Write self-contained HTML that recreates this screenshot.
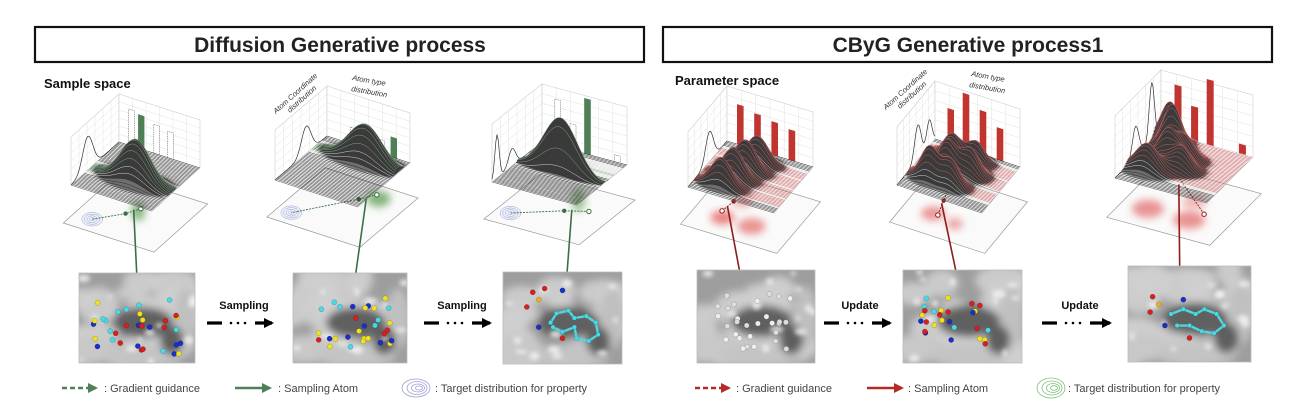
<!DOCTYPE html>
<html><head><meta charset="utf-8">
<style>
html,body{margin:0;padding:0;background:#fff;}
svg{display:block;font-family:"Liberation Sans",sans-serif;}
</style></head>
<body>
<svg id="s" width="1306" height="420" viewBox="0 0 1306 420" xmlns="http://www.w3.org/2000/svg">
<defs>
<filter id="b2" x="-50%" y="-50%" width="200%" height="200%"><feGaussianBlur stdDeviation="2"/></filter>
<filter id="b4" x="-50%" y="-50%" width="200%" height="200%"><feGaussianBlur stdDeviation="4"/></filter>
<filter id="b6" x="-50%" y="-50%" width="200%" height="200%"><feGaussianBlur stdDeviation="6"/></filter>
<marker id="ag" viewBox="0 0 10 10" refX="8" refY="5" markerWidth="4" markerHeight="4" orient="auto"><path d="M0,0L10,5L0,10z" fill="#4f7f57"/></marker>
<marker id="ar" viewBox="0 0 10 10" refX="8" refY="5" markerWidth="4" markerHeight="4" orient="auto"><path d="M0,0L10,5L0,10z" fill="#b52a25"/></marker>
<marker id="ak" viewBox="0 0 10 10" refX="8" refY="5" markerWidth="3.2" markerHeight="3.2" orient="auto"><path d="M0,0L10,5L0,10z" fill="#000"/></marker>
</defs>
<rect x="35" y="27" width="609" height="35" fill="#fff" stroke="#111" stroke-width="2.2"/>
<text x="340" y="52" font-size="21" font-weight="bold" text-anchor="middle" fill="#222">Diffusion Generative process</text>
<rect x="663" y="27" width="609" height="35" fill="#fff" stroke="#111" stroke-width="2.2"/>
<text x="968" y="52" font-size="21" text-anchor="middle" fill="#222" font-weight="bold">CByG Generative process1</text>
<g id="g"></g>
<text x="44" y="88" font-size="13" font-weight="bold" fill="#111">Sample space</text>
<text x="675" y="85" font-size="13" font-weight="bold" fill="#111">Parameter space</text>
<g font-size="7.5" fill="#333" font-style="italic">
<text transform="translate(276,114) rotate(-42)">Atom Coordinate</text>
<text transform="translate(290,113) rotate(-42)">distribution</text>
<text x="352" y="80" transform="rotate(10 352 80)">Atom type</text>
<text x="351" y="91" transform="rotate(10 351 91)">distribution</text>
<text transform="translate(886,110) rotate(-42)">Atom Coordinate</text>
<text transform="translate(900,109) rotate(-42)">distribution</text>
<text x="971" y="76" transform="rotate(10 971 76)">Atom type</text>
<text x="969" y="87" transform="rotate(10 969 87)">distribution</text>
</g>
<g font-size="11" font-weight="bold" fill="#111" text-anchor="middle">
<text x="244" y="309">Sampling</text>
<text x="462" y="309">Sampling</text>
<text x="860" y="309">Update</text>
<text x="1080" y="309">Update</text>
</g>
<g stroke="#000" stroke-width="3.2" fill="none">
<line x1="207" y1="323" x2="222" y2="323"/><line x1="255" y1="323" x2="272" y2="323" marker-end="url(#ak)"/>
<line x1="424" y1="323" x2="439" y2="323"/><line x1="472" y1="323" x2="490" y2="323" marker-end="url(#ak)"/>
<line x1="824" y1="323" x2="839" y2="323"/><line x1="872" y1="323" x2="890" y2="323" marker-end="url(#ak)"/>
<line x1="1042" y1="323" x2="1057" y2="323"/><line x1="1090" y1="323" x2="1110" y2="323" marker-end="url(#ak)"/>
</g>
<g fill="#000"><circle cx="231" cy="323" r="1.3"/><circle cx="238" cy="323" r="1.3"/><circle cx="245" cy="323" r="1.3"/>
<circle cx="448" cy="323" r="1.3"/><circle cx="455" cy="323" r="1.3"/><circle cx="462" cy="323" r="1.3"/>
<circle cx="848" cy="323" r="1.3"/><circle cx="855" cy="323" r="1.3"/><circle cx="862" cy="323" r="1.3"/>
<circle cx="1066" cy="323" r="1.3"/><circle cx="1073" cy="323" r="1.3"/><circle cx="1080" cy="323" r="1.3"/></g>
<g font-size="11" fill="#444">
<line x1="62" y1="388" x2="96" y2="388" stroke="#4f7f57" stroke-width="2.5" stroke-dasharray="5,3" marker-end="url(#ag)"/>
<text x="104" y="392">: Gradient guidance</text>
<line x1="235" y1="388" x2="270" y2="388" stroke="#4f7f57" stroke-width="2.5" marker-end="url(#ag)"/>
<text x="278" y="392">: Sampling Atom</text>
<g fill="none" stroke="#99a0d0" stroke-width="0.8"><ellipse cx="416" cy="388" rx="14" ry="9"/><ellipse cx="417" cy="388" rx="10" ry="6.5"/><ellipse cx="418" cy="388" rx="6.5" ry="4"/><ellipse cx="419" cy="388" rx="3.5" ry="2"/></g>
<text x="435" y="392">: Target distribution for property</text>
<line x1="695" y1="388" x2="729" y2="388" stroke="#b52a25" stroke-width="2.5" stroke-dasharray="5,3" marker-end="url(#ar)"/>
<text x="736" y="392">: Gradient guidance</text>
<line x1="867" y1="388" x2="902" y2="388" stroke="#b52a25" stroke-width="2.5" marker-end="url(#ar)"/>
<text x="908" y="392">: Sampling Atom</text>
<g fill="none" stroke="#7cc07c" stroke-width="0.8"><ellipse cx="1051" cy="388" rx="14" ry="10"/><ellipse cx="1052" cy="388" rx="10" ry="7"/><ellipse cx="1053" cy="388" rx="6.5" ry="4.5"/><ellipse cx="1054" cy="388" rx="3.5" ry="2.3"/></g>
<text x="1068" y="392">: Target distribution for property</text>
</g>
</svg>
<script>
(function(){
var NS="http://www.w3.org/2000/svg",G=document.getElementById("g");
function el(t,a,p){var e=document.createElementNS(NS,t);for(var k in a)e.setAttribute(k,a[k]);(p||G).appendChild(e);return e;}
var seed=7;function rnd(){seed=(seed*16807)%2147483647;return (seed-1)/2147483646;}
function gs(u,v,pu,pv,su,sv,h){return h*Math.exp(-((u-pu)*(u-pu)/(2*su*su)+(v-pv)*(v-pv)/(2*sv*sv)));}
function plot(o){
 var L=o.L,F=o.F,R=o.R,W=o.W;
 var Bk=[L[0]+R[0]-F[0],L[1]+R[1]-F[1]];
 function P(u,v,h){return [L[0]+u*(F[0]-L[0])+v*(R[0]-F[0]), L[1]+u*(F[1]-L[1])+v*(R[1]-F[1])-(h||0)];}
 function pt(a){return a[0].toFixed(1)+","+a[1].toFixed(1);}
 var g=el("g",{});
 var i;
 el("polygon",{points:[L,Bk,[Bk[0],Bk[1]-W],[L[0],L[1]-W]].map(pt).join(" "),fill:"#fff",stroke:"#ccc","stroke-width":0.6},g);
 el("polygon",{points:[Bk,R,[R[0],R[1]-W],[Bk[0],Bk[1]-W]].map(pt).join(" "),fill:"#fff",stroke:"#ccc","stroke-width":0.6},g);
 for(i=1;i<6;i++){var f=i/6;
  el("line",{x1:L[0],y1:L[1]-W*f,x2:Bk[0],y2:Bk[1]-W*f,stroke:"#e2e2e2","stroke-width":0.5},g);
  el("line",{x1:Bk[0],y1:Bk[1]-W*f,x2:R[0],y2:R[1]-W*f,stroke:"#e2e2e2","stroke-width":0.5},g);
  var a=P(0,f),b;
  el("line",{x1:a[0],y1:a[1],x2:a[0],y2:a[1]-W,stroke:"#e2e2e2","stroke-width":0.5},g);
  b=[Bk[0]+(R[0]-Bk[0])*f,Bk[1]+(R[1]-Bk[1])*f];
  el("line",{x1:b[0],y1:b[1],x2:b[0],y2:b[1]-W,stroke:"#e2e2e2","stroke-width":0.5},g);
 }
 var cp=[];for(i=0;i<=40;i++){var t=i/40;cp.push([L[0]+(Bk[0]-L[0])*t, L[1]+(Bk[1]-L[1])*t-o.curve(t)*W]);}
 el("polyline",{points:cp.map(pt).join(" "),fill:"none",stroke:"#333","stroke-width":0.7},g);
 o.bars.forEach(function(b){var u0=b[0],w=0.07,h=b[1]*W;
  var p0=[Bk[0]+(R[0]-Bk[0])*u0,Bk[1]+(R[1]-Bk[1])*u0],p1=[Bk[0]+(R[0]-Bk[0])*(u0+w),Bk[1]+(R[1]-Bk[1])*(u0+w)];
  el("polygon",{points:[p0,p1,[p1[0],p1[1]-h],[p0[0],p0[1]-h]].map(pt).join(" "),fill:b[2]?o.col:"#fff",stroke:b[2]?o.col:"#444","stroke-width":b[2]?0.6:0.5,"stroke-dasharray":b[2]?"":"1,0.8"},g);});
 var c=P(0.5,0.5),s=1.12,dy=o.pd;
 function Q(u,v){var p=P(u,v);return [c[0]+(p[0]-c[0])*s,c[1]+(p[1]-c[1])*s+dy];}
 el("polygon",{points:[Q(0,0),Q(1,0),Q(1,1),Q(0,1)].map(pt).join(" "),fill:"#fafafa",stroke:"#999","stroke-width":0.7},g);
 o.blobs.forEach(function(b){var q=Q(b[0],b[1]);el("ellipse",{cx:q[0],cy:q[1],rx:b[2],ry:b[3],fill:o.bcol,opacity:b[4],filter:"url(#b4)"},g);});
 var tq=Q(o.tgt[0],o.tgt[1]);
 for(i=4;i>0;i--)el("ellipse",{cx:tq[0],cy:tq[1],rx:i*2.6,ry:i*1.7,fill:i==4?o.tfill:"none",stroke:o.tcol,"stroke-width":0.5},g);
 var pa=Q(o.pts[0][0],o.pts[0][1]),pb=Q(o.pts[1][0],o.pts[1][1]),pc=Q(o.pts[2][0],o.pts[2][1]);
 el("polyline",{points:[pa,pb,tq].map(pt).join(" "),fill:"none",stroke:o.dcol,"stroke-width":0.9,"stroke-dasharray":"2,1.2"},g);
 el("circle",{cx:pb[0],cy:pb[1],r:2.2,fill:o.dcol},g);
 el("circle",{cx:pa[0],cy:pa[1],r:2.2,fill:"#fff",stroke:o.dcol,"stroke-width":1},g);
 var NU=46,NV=44;
 for(var j=NV;j>=0;j--){var v=j/NV,top=[],maxh=0;
  for(i=0;i<=NU;i++){var u=i/NU,h=o.h(u,v);if(h>maxh)maxh=h;top.push(P(u,v,h));}
  var poly=top.concat([P(1,v,0),P(0,v,0)]);
  var k=Math.min(1,maxh/(o.hmax||30));
  el("polygon",{points:poly.map(pt).join(" "),fill:k>0.2?"#3a3a3a":"#6e6e6e",stroke:"none"},g);
  el("polyline",{points:top.map(pt).join(" "),fill:"none",stroke:k>0.5?o.lcol:(k>0.2?"#d8d8d8":"#2a2a2a"),"stroke-width":0.5},g);
 }
 el("polyline",{points:[P(0,0),P(1,0),P(1,1)].map(pt).join(" "),fill:"none",stroke:"#888","stroke-width":0.4},g);
 el("line",{x1:pc[0],y1:pc[1],x2:o.to[0],y2:o.to[1],stroke:o.dcol,"stroke-width":1.6},g);
}
function protein(x,y,w,h,atoms,mol,sd){
 seed=sd;var g=el("g",{});
 var cp=el("clipPath",{id:"cp"+sd},g);el("rect",{x:x,y:y,width:w,height:h},cp);
 var gg=el("g",{"clip-path":"url(#cp"+sd+")"},g);
 el("rect",{x:x,y:y,width:w,height:h,fill:"#9e9e9e"},gg);
 var bl=el("g",{filter:"url(#b4)"},gg);
 for(var i=0;i<18;i++){el("ellipse",{cx:x+rnd()*w,cy:y+rnd()*h,rx:12+rnd()*18,ry:7+rnd()*12,fill:"#cfcfcf",opacity:0.9},bl);}
 el("ellipse",{cx:x+w*0.1,cy:y+h*0.85,rx:30,ry:14,fill:"#c8c8c8"},bl);
 el("ellipse",{cx:x+w*0.55,cy:y+h*0.92,rx:40,ry:12,fill:"#c4c4c4"},bl);
 el("ellipse",{cx:x+w*0.92,cy:y+h*0.5,rx:12,ry:30,fill:"#c0c0c0"},bl);
 el("ellipse",{cx:x+w*0.55,cy:y+h*0.55,rx:w*0.26,ry:h*0.17,fill:"#606060"},bl);
 el("ellipse",{cx:x+w*0.8,cy:y+h*0.75,rx:w*0.1,ry:h*0.16,fill:"#5e5e5e"},bl);
 var b2=el("g",{filter:"url(#b2)"},gg);
 for(i=0;i<12;i++){el("ellipse",{cx:x+rnd()*w,cy:y+rnd()*h,rx:2+rnd()*5,ry:1.5+rnd()*3,fill:"#f4f4f4",opacity:0.8},b2);}
 if(mol){var pts=mol.map(function(p){return [x+p[0]*w,y+p[1]*h];});
  el("polyline",{points:pts.map(function(p){return p.join(",");}).join(" "),fill:"none",stroke:"#4fd6e0","stroke-width":2.4},gg);}
 atoms.forEach(function(a){el("circle",{cx:x+a[0]*w,cy:y+a[1]*h,r:a[3]||2.6,fill:a[2],stroke:"rgba(0,0,0,0.35)","stroke-width":0.4},gg);});
 el("rect",{x:x,y:y,width:w,height:h,fill:"none",stroke:"#bbb","stroke-width":0.8},g);
}
var cols=["#d42020","#1a2fc8","#47d9e6","#f0e020"];
function randAtoms(n,sd,cx,cy,sx,sy,palette){seed=sd;var a=[];for(var i=0;i<n;i++){a.push([cx+(rnd()-0.5)*sx,cy+(rnd()-0.5)*sy,palette[Math.floor(rnd()*palette.length)]]);}return a;}
var GR="#4f7f57",RD="#c0352f";
plot({L:[71,185],F:[152,211],R:[200,168],W:48,pd:37,col:GR,lcol:"#7fa882",bcol:"#5a9a50",dcol:"#3e6e48",tcol:"#9aa2d4",tfill:"#eef0f8",hmax:40,
 h:function(u,v){return gs(u,v,0.55,0.42,0.18,0.08,42);},curve:function(t){return 0.7*Math.exp(-Math.pow((t-0.35)/0.15,2));},
 bars:[[0.12,0.75,0],[0.24,0.7,1],[0.43,0.6,0],[0.6,0.55,0]],
 blobs:[[0.5,0.55,7,10,0.7]],tgt:[0.2,0.2],pts:[[0.5,0.6],[0.42,0.45],[0.45,0.55]],to:[138,300]});
plot({L:[275,180],F:[358,207],R:[410,163],W:50,pd:36,col:GR,lcol:"#7fa882",bcol:"#5a9a50",dcol:"#3e6e48",tcol:"#9aa2d4",tfill:"#eef0f8",hmax:40,
 h:function(u,v){return gs(u,v,0.6,0.78,0.2,0.07,38);},curve:function(t){return 0.55*Math.exp(-Math.pow((t-0.6)/0.13,2));},
 bars:[[0.28,0.33,0],[0.4,0.2,0],[0.62,0.28,0],[0.77,0.4,1]],
 blobs:[[0.7,0.8,12,8,0.75]],tgt:[0.15,0.18],pts:[[0.65,0.85],[0.55,0.7],[0.6,0.75]],to:[352,300]});
plot({L:[492,182],F:[577,205],R:[627,165],W:58,pd:36,col:GR,lcol:"#7fa882",bcol:"#5a9a50",dcol:"#3e6e48",tcol:"#9aa2d4",tfill:"#eef0f8",hmax:40,
 h:function(u,v){return gs(u,v,0.5,0.52,0.2,0.035,55)+gs(u,v,0.35,0.72,0.12,0.06,20)+gs(u,v,0.25,0.85,0.1,0.06,15);},curve:function(t){return 0.75*Math.exp(-Math.pow((t-0.1)/0.06,2))+0.3*Math.exp(-Math.pow((t-0.4)/0.1,2));},
 bars:[[0.15,0.8,0],[0.33,0.45,0],[0.5,0.95,1],[0.85,0.12,0]],
 blobs:[[0.55,0.75,7,12,0.6]],tgt:[0.15,0.22],pts:[[0.75,0.6],[0.55,0.5],[0.6,0.55]],to:[565,300]});
function multi(list){return function(u,v){var s=0;list.forEach(function(p){s+=gs(u,v,p[0],p[1],p[2],p[3],p[4]);});return s;};}
plot({L:[688,187],F:[774,213],R:[813,167],W:55,pd:36,col:RD,lcol:"#c86060",bcol:"#e05050",dcol:"#8a1e1a",tcol:"#7cc07c",tfill:"#eef8ee",hmax:30,
 h:multi([[0.3,0.2,0.12,0.06,28],[0.35,0.4,0.12,0.06,30],[0.4,0.6,0.12,0.06,30],[0.45,0.8,0.12,0.06,26]]),curve:function(t){return 0.55*Math.exp(-Math.pow((t-0.55)/0.14,2));},
 bars:[[0.12,0.72,1],[0.32,0.65,1],[0.52,0.6,1],[0.72,0.55,1]],
 blobs:[[0.3,0.3,12,7,0.7],[0.6,0.3,14,8,0.6],[0.35,0.65,10,6,0.5]],tgt:[0.25,0.85],pts:[[0.25,0.4],[0.28,0.6],[0.26,0.5]],to:[745,300]});
plot({L:[897,185],F:[982,213],R:[1020,167],W:58,pd:36,col:RD,lcol:"#c86060",bcol:"#e05050",dcol:"#8a1e1a",tcol:"#7cc07c",tfill:"#eef8ee",hmax:30,
 h:multi([[0.25,0.3,0.1,0.07,32],[0.5,0.3,0.1,0.07,26],[0.35,0.55,0.1,0.07,30],[0.6,0.6,0.1,0.07,26],[0.3,0.78,0.1,0.07,24],[0.55,0.85,0.1,0.06,20]]),curve:function(t){return 0.6*Math.exp(-Math.pow((t-0.55)/0.12,2))+0.45*Math.exp(-Math.pow((t-0.85)/0.1,2));},
 bars:[[0.15,0.6,1],[0.33,0.95,1],[0.53,0.75,1],[0.73,0.55,1]],
 blobs:[[0.3,0.35,12,7,0.6],[0.55,0.3,8,6,0.5]],tgt:[0.25,0.85],pts:[[0.35,0.35],[0.3,0.6],[0.3,0.55]],to:[962,300]});
plot({L:[1115,178],F:[1207,203],R:[1253,157],W:62,pd:38,col:RD,lcol:"#c86060",bcol:"#e05050",dcol:"#8a1e1a",tcol:"#a08050",tfill:"#d8b8a0",hmax:30,
 h:multi([[0.2,0.3,0.12,0.08,26],[0.3,0.55,0.1,0.06,30],[0.25,0.75,0.1,0.06,44],[0.15,0.9,0.1,0.06,38],[0.5,0.45,0.1,0.07,22],[0.45,0.65,0.1,0.06,20]]),curve:function(t){return 0.5*Math.exp(-Math.pow((t-0.45)/0.1,2))+0.95*Math.exp(-Math.pow((t-0.8)/0.08,2));},
 bars:[[0.15,0.82,1],[0.33,0.55,1],[0.5,1.05,1],[0.85,0.15,1]],
 blobs:[[0.25,0.3,16,9,0.6],[0.65,0.3,16,9,0.6],[0.55,0.6,12,7,0.4]],tgt:[0.15,0.95],pts:[[0.72,0.45],[0.2,0.95],[0.3,0.8]],to:[1180,300]});
protein(79,273,116,90,randAtoms(34,11,0.5,0.6,0.75,0.6,cols),null,101);
protein(293,273,114,90,randAtoms(30,13,0.55,0.55,0.65,0.55,cols),null,102);
var mol1=[[0.4,0.55],[0.45,0.45],[0.55,0.42],[0.6,0.5],[0.7,0.48],[0.78,0.55],[0.8,0.68],[0.72,0.75],[0.62,0.72],[0.6,0.6],[0.5,0.65],[0.42,0.6]];
protein(503,272,119,92,mol1.map(function(p){return [p[0],p[1],"#47d9e6",2.3];}).concat([[0.3,0.3,"#e8b020"],[0.25,0.22,"#d42020"],[0.2,0.38,"#d42020"],[0.35,0.18,"#d42020"],[0.5,0.2,"#1a2fc8"],[0.3,0.6,"#1a2fc8"],[0.5,0.72,"#d42020"]]),mol1,103);
protein(697,270,118,93,randAtoms(30,17,0.5,0.55,0.65,0.6,["#eeeeee","#dddddd"]),null,104);
protein(903,270,119,93,randAtoms(28,19,0.45,0.55,0.6,0.5,cols),null,105);
var mol2=[[0.35,0.5],[0.45,0.45],[0.55,0.5],[0.62,0.45],[0.72,0.5],[0.78,0.62],[0.7,0.7],[0.6,0.68],[0.5,0.62],[0.4,0.62]];
protein(1128,266,123,96,mol2.map(function(p){return [p[0],p[1],"#47d9e6",2.3];}).concat([[0.25,0.4,"#e8b020"],[0.2,0.32,"#d42020"],[0.18,0.48,"#d42020"],[0.45,0.35,"#1a2fc8"],[0.3,0.62,"#1a2fc8"],[0.5,0.75,"#d42020"]]),mol2,106);
})();
</script>
</body></html>
